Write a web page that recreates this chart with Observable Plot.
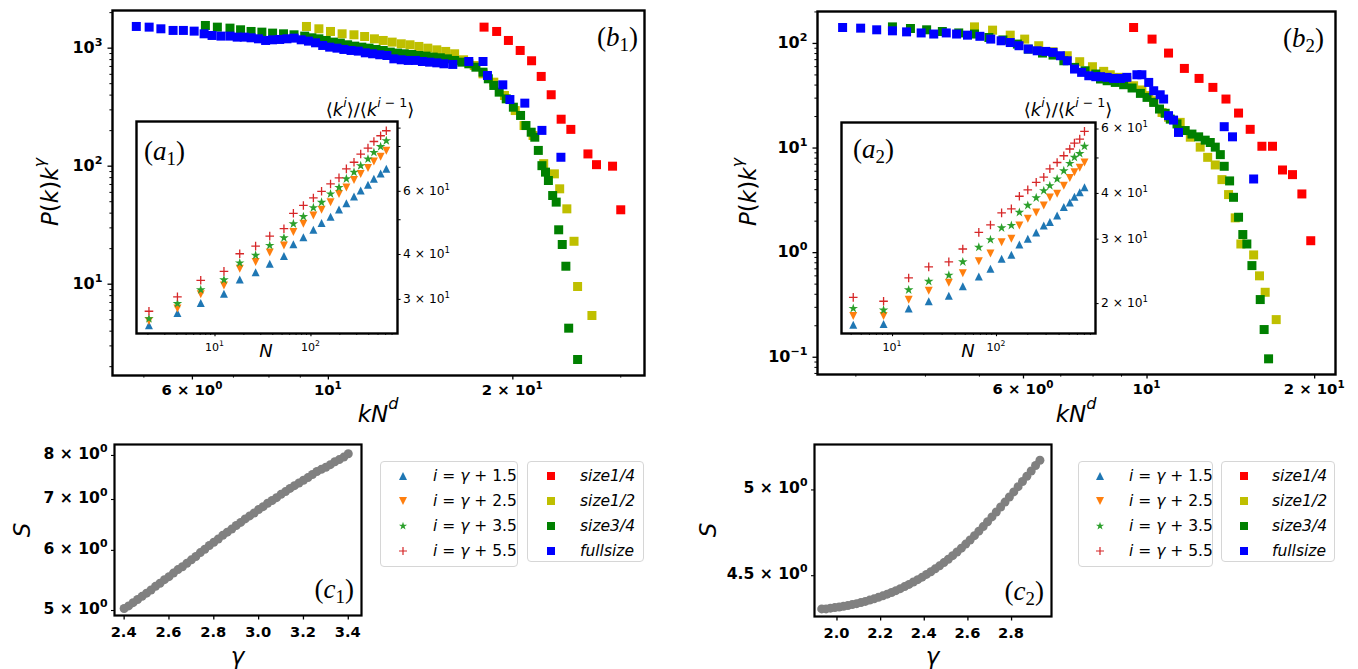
<!DOCTYPE html>
<html><head><meta charset="utf-8">
<script src="https://cdn.jsdelivr.net/npm/d3@7"></script>
<script src="https://cdn.jsdelivr.net/npm/@observablehq/plot@0.6"></script>
<style>
body{margin:0;background:#fff;}
#root{position:relative;width:1358px;height:669px;overflow:hidden;background:#fff;}
#root svg.plotsvg{position:absolute;overflow:visible;}
.lab,.tk{position:absolute;white-space:nowrap;font-family:"DejaVu Sans",sans-serif;color:#000;line-height:1;}
.lab sup{font-size:0.7em;vertical-align:0.75em;line-height:0;}
.tk sup{font-size:0.7em;vertical-align:0.62em;line-height:0;}
.pl{position:absolute;white-space:nowrap;font-family:"Liberation Serif","DejaVu Serif",serif;font-size:27px;line-height:1;color:#000;}
.pl sub{font-size:0.7em;vertical-align:-0.3em;line-height:0;}
.leg{position:absolute;border:1.3px solid #d6d6d6;border-radius:4px;background:#fff;box-sizing:border-box;}
.row{position:absolute;left:0;width:100%;height:20px;}
.row svg{position:absolute;top:2px;}
.row span{position:absolute;top:2px;font-family:"DejaVu Sans",sans-serif;font-size:15.5px;line-height:16px;white-space:nowrap;}
</style></head>
<body><div id="root"></div>
<script>
// ---------------- data ----------------
// (b1) P(k)k^gamma vs kN^d
const b1RedK = [17.95,18.82,19.67,20.56,21.46,22.25,23.10,23.98,24.87,26.52,27.39,29.09,30.0];
const b1RedP = [1507,1385,1162,956,782,576,403,250,205,127,103,100,42.7];
const b1YelK = [9.21,9.65,10.08,10.53,11.01,11.46,11.89,12.29,12.71,13.15,13.59,14.05,14.53,15.03,15.54,16.07,16.62,17.30,17.88,18.62,19.38,20.18,20.86,21.58,22.46,23.38,23.85,24.50,25.17,25.51,26.92];
const b1YelP = [1527,1459,1385,1323,1298,1256,1200,1162,1125,1089,1068,1034,1000,968,938,896,797,713,606,515,397,296,221,182,105,86.1,64.3,43.5,23.1,9.56,5.43];
const b1GrnK = [6.30,6.59,6.91,7.19,7.48,7.79,8.11,8.45,8.79,9.15,9.40,9.65,9.92,10.19,10.46,10.75,11.04,11.34,11.65,11.96,12.29,12.62,12.97,13.30,13.68,14.05,14.43,14.83,15.23,15.64,16.07,16.51,16.95,17.41,17.88,18.24,18.62,19.00,19.51,20.04,20.59,21.01,21.43,21.72,22.01,22.31,22.61,22.86,23.23,23.54,23.76,24.08,24.41,24.67,25.51];
const b1GrnP = [1557,1507,1478,1431,1385,1367,1341,1323,1298,1265,1224,1200,1162,1125,1103,1068,1040,1020,1000,975,956,926,908,896,884,867,856,840,829,812,787,761,737,690,626,550,483,424,372,316,269,221,194,176,136,101,89,75.6,56.4,49.6,28.9,21.7,14.2,4.24,2.30];
const b1BluK = [4.86,5.10,5.33,5.58,5.80,6.04,6.27,6.46,6.68,6.91,7.10,7.29,7.48,7.69,7.90,8.11,8.33,8.56,8.79,9.03,9.28,9.53,9.79,10.05,10.33,10.60,10.89,11.19,11.49,11.81,12.13,12.46,12.79,13.15,13.50,13.87,14.24,14.63,15.03,15.44,15.96,16.95,17.88,18.18,19.26,19.78,20.92,22.31,23.96];
const b1BluP = [1527,1507,1459,1413,1413,1394,1323,1281,1265,1265,1240,1240,1224,1200,1162,1177,1185,1200,1216,1177,1147,1110,1054,1020,1000,975,956,944,913,896,879,867,812,797,787,787,771,761,751,737,728,771,771,587,489,367,342,201,119];

// (a1) <k^i>/<k^(i-1)> vs N
const a1N   = [2.05,4.06,7.1,12.4,18.1,26.5,37.2,52.3,65.6,83.4,106,129,160,196,234,281,330,393,453,532,610];
const a1i15 = [25.4,27.5,29.3,31.1,34.1,35.7,37.7,39.6,42.7,44.7,46.9,49.0,51.0,53.4,55.6,58.0,60.3,62.6,65.0,67.3,69.3];
const a1i25 = [26.1,28.3,31.0,32.8,36.5,38.1,40.5,42.4,46.2,48.7,51.4,53.3,55.9,59.0,61.5,64.5,67.1,69.7,72.6,74.9,77.8];
const a1i35 = [26.5,29.2,31.9,34.0,37.9,39.8,42.4,44.5,48.7,51.0,54.0,55.9,59.0,61.5,65.0,67.8,70.7,73.8,77.0,79.9,83.0];
const a1i55 = [27.8,30.5,33.9,35.9,40.2,42.2,45.0,47.2,52.1,54.8,57.5,60.0,62.9,65.4,69.3,72.3,76.2,79.2,82.6,85.7,88.5];

// (b2)
const b2RedK = [9.46,10.21,10.93,11.67,12.40,13.13,13.86,14.60,15.32,16.08,16.80,17.51,18.25,18.97,19.68];
const b2RedP = [142,110,80.9,57.7,46.3,38.0,29.4,21.6,15.1,10.4,10.4,6.17,5.57,3.64,1.30];
const b2YelK = [4.90,5.28,5.68,6.03,6.39,6.78,7.19,7.57,7.98,8.36,8.59,8.89,9.20,9.46,9.79,10.07,10.28,10.64,10.93,11.47,11.96,12.46,12.85,13.26,13.63,14.01,14.40,14.74,15.54,15.92,16.30,17.06];
const b2YelP = [144,134,120,110,95.1,83.3,76.3,66.9,59.9,54.1,50.2,47.4,44.0,39.4,35.9,31.7,28.3,21.9,19.7,17.6,12.7,10.2,8.15,6.89,4.99,3.59,2.15,1.21,0.951,0.600,0.418,0.229];
const b2GrnK = [3.49,3.76,4.02,4.29,4.59,4.90,5.20,5.51,5.85,6.12,6.49,6.78,7.09,7.41,7.74,8.09,8.25,8.48,8.77,9.08,9.40,9.73,10.0,10.28,10.53,10.78,11.01,11.32,11.71,12.04,12.38,12.72,12.99,13.26,13.54,13.76,14.07,14.30,14.60,14.86,15.11,15.43,15.97,16.23,16.53];
const b2GrnP = [144,139,135,130,126,123,114,108,98.6,88.3,80.9,77.4,68.3,59.0,54.8,51.0,45.7,44.0,42.4,40.3,37.5,33.3,30.5,27.3,23.6,21.5,18.9,17.0,14.7,13.6,12.8,11.9,11.3,10.2,8.65,6.69,4.85,3.38,2.18,1.49,1.21,0.752,0.356,0.184,0.0966];
const b2BluK = [2.84,3.06,3.27,3.49,3.70,3.93,4.14,4.36,4.55,4.76,5.01,5.24,5.47,5.68,5.89,6.12,6.35,6.58,6.78,6.99,7.19,7.41,7.63,7.86,8.09,8.25,8.48,8.71,8.96,9.20,9.59,9.79,10.07,10.28,10.56,10.71,10.93,11.16,11.39,13.76,14.24,15.54];
const b2BluP = [142,140,135,132,129,126,123,126,123,120,117,110,106,102,95.1,88.3,85.1,83.9,82.1,76.3,68.3,56.9,52.9,49.1,48.1,48.1,47.4,46.3,46.3,47.4,50.2,50.2,42.4,35.3,32.3,29.4,20.4,18.5,14.1,16.0,12.8,5.06];

// (a2)
const a2N   = [4.19,8.2,14.3,22.3,34.8,47.4,67.6,87.5,112,139,166,200,241,285,326,383,444,507,562,632,702];
const a2i15 = [17.5,17.6,19.4,20.3,21.0,22.3,23.7,24.9,26.5,27.2,29.0,30.1,31.3,32.7,33.4,34.8,36.7,37.8,39.2,40.3,41.6];
const a2i25 = [18.5,18.5,20.5,21.7,22.8,24.2,26.1,27.4,29.4,30.1,32.7,34.1,35.5,37.1,39.0,39.9,42.0,44.1,45.7,47.0,48.6];
const a2i35 = [19.4,19.2,21.8,23.0,23.9,26.0,28.5,29.9,32.2,32.7,35.5,37.1,38.9,40.7,42.0,43.8,46.1,48.3,50.2,51.4,53.8];
const a2i55 = [20.8,20.3,23.5,25.2,26.0,28.2,31.3,32.8,35.4,36.3,39.3,40.9,42.9,44.3,46.7,48.6,50.7,52.9,54.9,56.3,59.1];

// (c1) S vs gamma
const c1G = [2.40,2.42,2.44,2.46,2.48,2.50,2.52,2.54,2.56,2.58,2.60,2.62,2.64,2.66,2.68,2.70,2.72,2.74,2.76,2.78,2.80,2.82,2.84,2.86,2.88,2.90,2.92,2.94,2.96,2.98,3.00,3.02,3.04,3.06,3.08,3.10,3.12,3.14,3.16,3.18,3.20,3.22,3.24,3.26,3.28,3.30,3.32,3.34,3.36,3.38,3.40];
const c1S = [5.03,5.07,5.12,5.17,5.22,5.27,5.32,5.38,5.43,5.49,5.54,5.60,5.66,5.71,5.77,5.83,5.89,5.96,6.02,6.09,6.15,6.21,6.28,6.34,6.40,6.47,6.53,6.60,6.66,6.72,6.79,6.85,6.92,6.98,7.04,7.11,7.17,7.24,7.30,7.36,7.42,7.48,7.55,7.62,7.67,7.72,7.78,7.85,7.90,7.96,8.04];
// (c2)
const c2G = [1.93,1.95,1.97,1.99,2.01,2.03,2.05,2.07,2.09,2.11,2.13,2.15,2.17,2.19,2.21,2.23,2.25,2.27,2.29,2.31,2.33,2.35,2.37,2.39,2.41,2.43,2.45,2.47,2.49,2.51,2.53,2.55,2.57,2.59,2.61,2.63,2.65,2.67,2.69,2.71,2.73,2.75,2.77,2.79,2.81,2.83,2.85,2.87,2.89,2.91,2.93];
const c2S = [4.32,4.32,4.324,4.327,4.33,4.334,4.338,4.343,4.348,4.354,4.36,4.367,4.374,4.382,4.39,4.399,4.408,4.418,4.429,4.44,4.452,4.465,4.478,4.492,4.507,4.522,4.538,4.555,4.573,4.592,4.612,4.633,4.655,4.678,4.702,4.727,4.753,4.78,4.808,4.837,4.866,4.896,4.926,4.957,4.988,5.02,5.052,5.085,5.118,5.152,5.186];

// tick values and labels
const bXTicks = [6,10,20];
const bXLabels = ["6 × 10<sup>0</sup>","10<sup>1</sup>","2 × 10<sup>1</sup>"];
const b1XMinor = [5,7,8,9,30];
const b2XMinor = [3,4,5,7,8,9];
const b1YTicks = [10,100,1000];
const b1YLabels = ["10<sup>1</sup>","10<sup>2</sup>","10<sup>3</sup>"];
const b1YMinor = [2,3,4,5,6,7,8,9,20,30,40,50,60,70,80,90,200,300,400,500,600,700,800,900,2000];
const b2YTicks = [0.1,1,10,100];
const b2YLabels = ["10<sup>−1</sup>","10<sup>0</sup>","10<sup>1</sup>","10<sup>2</sup>"];
const b2YMinor = [0.07,0.08,0.09,0.2,0.3,0.4,0.5,0.6,0.7,0.8,0.9,2,3,4,5,6,7,8,9,20,30,40,50,60,70,80,90,200];
const aXTicks = [10,100];
const aXLabels = ["10<sup>1</sup>","10<sup>2</sup>"];
const a1XMinor = [2,3,4,5,6,7,8,9,20,30,40,50,60,70,80,90,200,300,400,500,600,700];
const a2XMinor = [4,5,6,7,8,9,20,30,40,50,60,70,80,90,200,300,400,500,600,700,800];
const a1YTicks = [30,40,60];
const a1YLabels = ["3 × 10<sup>1</sup>","4 × 10<sup>1</sup>","6 × 10<sup>1</sup>"];
const a1YMinor = [50,70,80,90];
const a2YTicks = [20,30,40,60];
const a2YLabels = ["2 × 10<sup>1</sup>","3 × 10<sup>1</sup>","4 × 10<sup>1</sup>","6 × 10<sup>1</sup>"];
const a2YMinor = [50];
const c1XTicks = [2.4,2.6,2.8,3.0,3.2,3.4];
const c1XLabels = ["2.4","2.6","2.8","3.0","3.2","3.4"];
const c2XTicks = [2.0,2.2,2.4,2.6,2.8];
const c2XLabels = ["2.0","2.2","2.4","2.6","2.8"];
const c1YTicks = [5,6,7,8];
const c1YLabels = ["5 × 10<sup>0</sup>","6 × 10<sup>0</sup>","7 × 10<sup>0</sup>","8 × 10<sup>0</sup>"];
const c2YTicks = [4.5,5];
const c2YLabels = ["4.5 × 10<sup>0</sup>","5 × 10<sup>0</sup>"];

// ---------------- symbols ----------------
const rad = s => Math.sqrt(s/Math.PI);
const SQ = {draw(c,s){const r=rad(s);c.moveTo(-r,-r);c.lineTo(r,-r);c.lineTo(r,r);c.lineTo(-r,r);c.closePath();}};
const TU = {draw(c,s){const r=rad(s);c.moveTo(0,-r);c.lineTo(r,r);c.lineTo(-r,r);c.closePath();}};
const TD = {draw(c,s){const r=rad(s);c.moveTo(0,r);c.lineTo(r,-r);c.lineTo(-r,-r);c.closePath();}};
const ST = {draw(c,s){const R=rad(s),q=R*0.382;for(let i=0;i<10;i++){const a=-Math.PI/2+i*Math.PI/5,rr=i%2?q:R;const x=rr*Math.cos(a),y=rr*Math.sin(a);if(i)c.lineTo(x,y);else c.moveTo(x,y);}c.closePath();}};
const PL = {draw(c,s){const r=rad(s);c.moveTo(-r,0);c.lineTo(r,0);c.moveTo(0,-r);c.lineTo(0,r);}};

const C = {b:"#1f77b4",o:"#ff7f0e",g:"#2ca02c",r:"#d62728",R:"#ff0000",Y:"#bfbf00",G:"#008000",B:"#0000ff",gray:"#808080"};
const root = document.getElementById("root");

function txt(html, x, y, cls, style, tr){
  const d=document.createElement("div");
  d.className=cls; d.innerHTML=html;
  d.style.left=x+"px"; d.style.top=y+"px";
  d.style.transform=tr||"translate(-50%,-50%)";
  if(style) Object.assign(d.style, style);
  root.append(d);
  return d;
}
// scale a label group so that one sample label gets the width it has in the reference
function fit(divs, idx, target){
  const w = divs[idx].getBoundingClientRect().width;
  if (!(w > 0)) return;
  const k = Math.max(0.8, Math.min(1.6, target / w));
  divs.forEach(d => d.style.fontSize = (parseFloat(d.style.fontSize) * k).toFixed(2) + "px");
}

function panel(f, m, opts){
  const w=f.x1-f.x0, h=f.y1-f.y0;
  const svg = Plot.plot({
    width:w+m.l+m.r, height:h+m.t+m.b,
    marginLeft:m.l, marginRight:m.r, marginTop:m.t, marginBottom:m.b,
    style:{background:"transparent",overflow:"visible",fontFamily:"DejaVu Sans"},
    ...opts
  });
  svg.classList.add("plotsvg");
  const ox=f.x0-m.l, oy=f.y0-m.t;
  svg.style.left=ox+"px"; svg.style.top=oy+"px";
  root.append(svg);
  return {svg, ox, oy, f};
}
// tick labels positioned through the plot's own scales
function xLab(p, ticks, labels, gap, fs, bold){
  const s=p.svg.scale("x");
  return ticks.map((t,i)=>txt(labels[i], p.ox+s.apply(t), p.f.y1+gap, "tk", {fontSize:fs+"px",fontWeight:bold?"bold":"normal"}, "translate(-50%,0)"));
}
function yLab(p, ticks, labels, gap, fs, bold, right){
  const s=p.svg.scale("y");
  return ticks.map((t,i)=>txt(labels[i], right?p.f.x1+gap:p.f.x0-gap, p.oy+s.apply(t), "tk", {fontSize:fs+"px",fontWeight:bold?"bold":"normal"}, right?"translate(0,-50%)":"translate(-100%,-50%)"));
}
const none = () => "";
const tx = (v,size,sw) => Plot.axisX(v,{tickFormat:none,label:null,tickSize:size,strokeWidth:sw});
const ty = (v,size,sw,anchor) => Plot.axisY(v,{tickFormat:none,label:null,tickSize:size,strokeWidth:sw,anchor:anchor||"left"});
function sq(K,P,color){return Plot.dot(K,{x:K,y:P,symbol:SQ,r:4.5,fill:color,stroke:"none"});}

// ---- (b1)
const pb1 = panel({x0:112,y0:10,x1:644,y1:375},{l:70,r:10,t:10,b:40},{
  x:{type:"log",domain:[4.444,32.8]},
  y:{type:"log",domain:[1.684,2085]},
  marks:[
    sq(b1RedK,b1RedP,C.R), sq(b1YelK,b1YelP,C.Y), sq(b1GrnK,b1GrnP,C.G), sq(b1BluK,b1BluP,C.B),
    tx(bXTicks,4.5,1.3), tx(b1XMinor,2.6,1),
    ty(b1YTicks,4.5,1.3), ty(b1YMinor,2.6,1),
    Plot.frame({stroke:"black",strokeWidth:2.4})
  ]
});
const b1x = xLab(pb1, bXTicks, bXLabels, 8, 16, true);
const b1y = yLab(pb1, b1YTicks, b1YLabels, 9.5, 16, true, false);

// ---- insets
function inset(f, N, s15, s25, s35, s55, xdom, ydom, xMinor, yT, yL, yMinor){
  const p = panel(f,{l:10,r:60,t:10,b:30},{
    x:{type:"log",domain:xdom},
    y:{type:"log",domain:ydom},
    marks:[
      Plot.frame({fill:"white",stroke:null}),
      Plot.dot(N,{x:N,y:s15,symbol:TU,r:4,fill:C.b,stroke:"none"}),
      Plot.dot(N,{x:N,y:s25,symbol:TD,r:4,fill:C.o,stroke:"none"}),
      Plot.dot(N,{x:N,y:s35,symbol:ST,r:5,fill:C.g,stroke:"none"}),
      Plot.dot(N,{x:N,y:s55,symbol:PL,r:4.3,fill:"none",stroke:C.r,strokeWidth:1.3}),
      tx(aXTicks,3.2,1.1), tx(xMinor,2,0.9),
      ty(yT,2.6,1,"right"), ty(yMinor,2.6,1,"right"),
      Plot.frame({stroke:"black",strokeWidth:2.4})
    ]
  });
  return {x: xLab(p, aXTicks, aXLabels, 9, 12.5, false), y: yLab(p, yT, yL, 6, 12.5, false, true)};
}
const ia1 = inset({x0:136,y0:121,x1:397,y1:333}, a1N, a1i15, a1i25, a1i35, a1i55, [1.52,798], [24.1,93.9], a1XMinor, a1YTicks, a1YLabels, a1YMinor);

// ---- (b2)
const pb2 = panel({x0:817,y0:11,x1:1335,y1:374},{l:70,r:10,t:10,b:40},{
  x:{type:"log",domain:[2.56,21.8]},
  y:{type:"log",domain:[0.0684,202]},
  marks:[
    sq(b2RedK,b2RedP,C.R), sq(b2YelK,b2YelP,C.Y), sq(b2GrnK,b2GrnP,C.G), sq(b2BluK,b2BluP,C.B),
    tx(bXTicks,4.5,1.3), tx(b2XMinor,2.6,1),
    ty(b2YTicks,4.5,1.3), ty(b2YMinor,2.6,1),
    Plot.frame({stroke:"black",strokeWidth:2.4})
  ]
});
const b2x = xLab(pb2, bXTicks, bXLabels, 8, 16, true);
const b2y = yLab(pb2, b2YTicks, b2YLabels, 9.5, 16, true, false);
const ia2 = inset({x0:841,y0:122,x1:1095,y1:333}, a2N, a2i15, a2i25, a2i35, a2i55, [3.23,896], [16.57,62.5], a2XMinor, a2YTicks, a2YLabels, a2YMinor);

// ---- (c1), (c2)
function cpanel(f, G, S, xdom, ydom, xT, xL, yT, yL){
  const p = panel(f,{l:90,r:10,t:10,b:40},{
    x:{type:"linear",domain:xdom},
    y:{type:"log",domain:ydom},
    marks:[
      Plot.dot(G,{x:G,y:S,r:4.5,fill:C.gray,stroke:"none"}),
      tx(xT,4.5,1.3), ty(yT,3,1.1),
      Plot.frame({stroke:"black",strokeWidth:2.2})
    ]
  });
  return {x: xLab(p, xT, xL, 9.5, 15.5, true), y: yLab(p, yT, yL, 6.5, 15.5, true, false)};
}
const pc1 = cpanel({x0:114,y0:444,x1:361,y1:615}, c1G, c1S, [2.357,3.459], [4.925,8.27], c1XTicks, c1XLabels, c1YTicks, c1YLabels);
const pc2 = cpanel({x0:814,y0:444,x1:1051,y1:616}, c2G, c2S, [1.897,2.983], [4.28,5.287], c2XTicks, c2XLabels, c2YTicks, c2YLabels);

// match label widths measured on the reference
fit([...b1x, ...b2x], 0, 61);
fit([...b1y, ...b2y], 2, 30);
fit([...ia1.y, ...ia2.y], 2, 47);
fit([...ia1.x, ...ia2.x], 0, 19);
fit([...pc1.x, ...pc2.x], 0, 26);
fit([...pc1.y, ...pc2.y], 3, 64);

// ---------------- axis / panel labels ----------------
const PK = '<i>P</i>(<i>k</i>)<i>k</i><sup><i>γ</i></sup>';
const KN = '<i>kN</i><sup><i>d</i></sup>';
const RAT = '⟨<i>k</i><sup><i>i</i></sup>⟩/⟨<i>k</i><sup><i>i</i> − 1</sup>⟩';
txt(PK, 50, 192, "lab", {fontSize:"23px"}, "translate(-50%,-50%) rotate(-90deg)");
txt(PK, 748, 192, "lab", {fontSize:"23px"}, "translate(-50%,-50%) rotate(-90deg)");
txt(KN, 378, 414, "lab", {fontSize:"23px"});
txt(KN, 1076, 414, "lab", {fontSize:"23px"});
txt(RAT, 370, 110, "lab", {fontSize:"18px"});
txt(RAT, 1068, 110, "lab", {fontSize:"18px"});
txt('<i>N</i>', 266, 351, "lab", {fontSize:"18px"});
txt('<i>N</i>', 968, 351, "lab", {fontSize:"18px"});
txt('<i>S</i>', 22, 530, "lab", {fontSize:"23px"}, "translate(-50%,-50%) rotate(-90deg)");
txt('<i>S</i>', 708, 530, "lab", {fontSize:"23px"}, "translate(-50%,-50%) rotate(-90deg)");
txt('<i>γ</i>', 237.5, 656, "lab", {fontSize:"23px"});
txt('<i>γ</i>', 932.5, 656, "lab", {fontSize:"23px"});
txt('(<i>b</i><sub>1</sub>)', 638, 37, "pl", null, "translate(-100%,-50%)");
txt('(<i>b</i><sub>2</sub>)', 1324, 38, "pl", null, "translate(-100%,-50%)");
txt('(<i>a</i><sub>1</sub>)', 144, 151, "pl", null, "translate(0,-50%)");
txt('(<i>a</i><sub>2</sub>)', 853, 149, "pl", null, "translate(0,-50%)");
txt('(<i>c</i><sub>1</sub>)', 354, 589, "pl", null, "translate(-100%,-50%)");
txt('(<i>c</i><sub>2</sub>)', 1044, 591, "pl", null, "translate(-100%,-50%)");

// ---------------- legends ----------------
const legIEntries = ['<i>i</i> = <i>γ</i> + 1.5','<i>i</i> = <i>γ</i> + 2.5','<i>i</i> = <i>γ</i> + 3.5','<i>i</i> = <i>γ</i> + 5.5'];
const legSEntries = ['size1/4','size1/2','size3/4','fullsize'];
const mkSvg = (path, fill, stroke, sw) => `<svg width="16" height="16" viewBox="-8 -8 16 16"><path d="${path}" fill="${fill}" stroke="${stroke}" stroke-width="${sw}"/></svg>`;
function starPath(R){let p="";for(let i=0;i<10;i++){const a=-Math.PI/2+i*Math.PI/5,rr=i%2?R*0.382:R;p+=(i?"L":"M")+(rr*Math.cos(a)).toFixed(2)+","+(rr*Math.sin(a)).toFixed(2);}return p+"Z";}
const legIMarks = [
  mkSvg("M0,-4L4,4L-4,4Z",C.b,"none",0),
  mkSvg("M0,4L4,-4L-4,-4Z",C.o,"none",0),
  mkSvg(starPath(4.3),C.g,"none",0),
  mkSvg("M-4,0L4,0M0,-4L0,4","none",C.r,1.2)
];
const legSColors = [C.R,C.Y,C.G,C.B];
function legend(x, y, w, h, marks, texts, mx, tx0, italic){
  const box=document.createElement("div");
  box.className="leg";
  Object.assign(box.style,{left:x+"px",top:y+"px",width:w+"px",height:h+"px"});
  const rows=[13.5,38.5,63.5,88.5];
  texts.forEach((t,i)=>{
    const r=document.createElement("div"); r.className="row";
    r.style.top=(rows[i]-10)+"px";
    r.innerHTML=marks[i].replace("<svg",`<svg style="left:${mx-8}px"`)+`<span style="left:${tx0}px;${italic?'font-style:italic;':''}">${t}</span>`;
    box.append(r);
  });
  root.append(box);
}
const legSMarks = legSColors.map(c=>mkSvg("M-4,-4L4,-4L4,4L-4,4Z",c,"none",0));
legend(380, 461, 138, 106, legIMarks, legIEntries, 22, 52, false);
legend(527, 461, 117, 101, legSMarks, legSEntries, 23, 52, true);
legend(1078, 461, 135, 106, legIMarks, legIEntries, 21, 50, false);
legend(1221, 461, 114, 101, legSMarks, legSEntries, 22, 50, true);
</script></body></html>
